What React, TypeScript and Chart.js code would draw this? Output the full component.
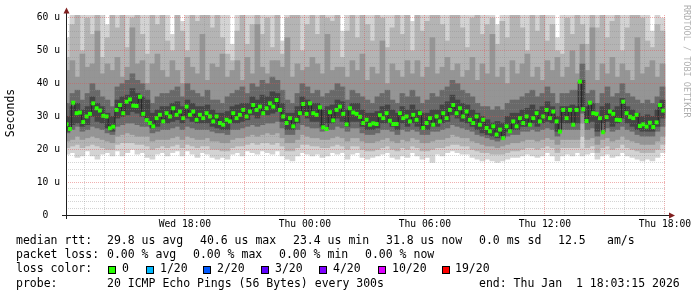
import React, { useEffect, useRef } from 'react';
import { Chart, registerables } from 'chart.js';

Chart.register(...registerables);

// ---- time axis (minutes since Wed 00:00) ----
const START_MIN = 723.25; // Wed 12:03:15
const END_MIN = 2523.25; // Thu 18:03:15
const SMOKE_START = 720;
const SMOKE_STEP = 15;
const MEDIAN_START = 720;
const MEDIAN_STEP = 10;

const xLabelValues = [1080, 1440, 1800, 2160, 2520];
const xLabelTexts = ['Wed 18:00', 'Thu 00:00', 'Thu 06:00', 'Thu 12:00', 'Thu 18:00'];
const yLabelValues = [0, 10, 20, 30, 40, 50, 60];
const yLabelTexts = ['0  ', '10 u', '20 u', '30 u', '40 u', '50 u', '60 u'];

// ---- median RTT (us), one per 10 minutes ----
const median = [
  27.6, 26.2, 34.2, 31.0, 31.2, 28.3, 30.0, 30.8, 34.0, 32.5, 31.8, 30.2, 30.0, 26.4, 26.9, 32.0, 33.5, 31.0, 34.5, 35.2, 33.3, 33.2, 36.0, 30.8, 28.9,
  28.0, 27.0, 29.5, 30.5, 28.5, 31.0, 30.0, 32.5, 30.5, 31.5, 29.5, 33.0, 30.5, 31.5, 29.0, 30.5, 29.5, 31.0, 30.0, 28.5, 30.0, 28.0, 27.5, 29.0, 28.5,
  31.0, 29.5, 30.5, 32.0, 30.0, 31.5, 33.5, 32.0, 33.0, 31.0, 32.5, 34.0, 33.0, 35.0, 32.0, 30.0, 28.0, 29.5, 27.0, 29.0, 31.0, 33.8, 30.8, 34.0, 31.0,
  30.5, 32.8, 26.7, 26.2, 31.3, 28.8, 32.0, 33.0, 30.8, 27.6, 32.5, 31.2, 30.8, 29.9, 28.0, 29.0, 27.5, 27.9, 27.7, 30.4, 29.5, 31.0, 28.7, 27.7, 27.7,
  31.0, 29.5, 30.0, 28.5, 30.5, 29.0, 31.0, 26.5, 28.0, 29.5, 27.5, 30.0, 28.5, 31.0, 29.5, 32.0, 33.5, 31.0, 32.5, 30.0, 31.5, 29.0, 28.0, 30.0, 27.5,
  29.0, 26.5, 25.5, 27.0, 24.5, 26.0, 23.4, 27.0, 25.5, 28.5, 27.0, 29.5, 28.0, 30.0, 27.5, 29.5, 31.0, 28.5, 30.0, 32.0, 29.5, 31.5, 28.5, 25.4, 32.0,
  29.5, 32.0, 27.5, 32.0, 40.6, 32.2, 28.6, 34.2, 31.0, 30.8, 29.5, 25.2, 29.8, 31.5, 30.8, 29.0, 28.9, 34.5, 31.0, 29.9, 29.5, 30.5, 27.1, 27.6, 26.9,
  28.1, 26.8, 28.2, 33.5, 31.8,
];

// ---- smoke percentiles (us), one column per 15 minutes ----
const ping1 = [
  18.5, 19, 17.5, 18, 19.5, 18, 17, 18.5, 19, 18,
  19.5, 18, 19, 20, 18.5, 19, 17.5, 17, 18.5, 19,
  18, 19, 19.5, 18, 19.5, 18.5, 17.5, 19, 18.5, 17.5,
  17, 17.5, 17, 18.5, 19, 18, 19.5, 19, 18.5, 19.5,
  19, 18.5, 19.5, 18, 17, 16.5, 18, 19, 18.5, 18,
  18.5, 17.5, 18, 19, 18.5, 19, 17, 18.5, 19, 17.5,
  17, 17.5, 18, 18.5, 19, 17.5, 17, 18, 17.5, 19,
  18, 17, 17.5, 16, 18.5, 18, 19, 19.5, 19, 18.5,
  18.5, 17.5, 17, 16.5, 17, 16.5, 16, 16.5, 17, 17.5,
  17.5, 18, 18.5, 18, 17.5, 18, 19, 18, 16.5, 18,
  18.5, 18, 19, 18, 18.5, 19, 17, 18, 18.5, 17.5,
  18, 19, 18, 17.5, 17, 16.5, 17, 16.5, 17.5, 19,
];
const ping2 = [
  20.5, 21, 21.5, 20.5, 21, 21.5, 21, 20.5, 20, 20,
  21.5, 22, 22, 22, 21.5, 21.5, 21, 20, 20.5, 21,
  20.5, 21, 21.5, 20.5, 21.5, 21, 20.5, 21, 21, 20,
  20, 19.5, 19.5, 20.5, 21, 21, 21.5, 22, 21.5, 22,
  22, 21.5, 22, 21, 19.5, 19.5, 20.5, 21.5, 21.5, 21,
  21, 20.5, 20.5, 21, 21.5, 21, 20, 21, 21, 20,
  19.5, 19.5, 20, 20.5, 21, 20, 19.5, 20.5, 20, 21,
  20.5, 19.5, 19.5, 20, 20.5, 20.5, 21, 21.5, 21.5, 21,
  21, 20, 19.5, 19, 19, 18.5, 18.5, 18.5, 19, 19.5,
  19.5, 20, 20.5, 20.5, 20, 20.5, 21, 20.5, 19, 20.5,
  20.5, 20.5, 20.5, 24, 20.5, 21, 19, 20.5, 21, 20,
  20.5, 21.5, 20.5, 20, 19.5, 19, 19, 19, 20, 21.5,
];
const ping4 = [
  22.5, 23, 24, 23, 23.5, 24, 23.5, 23, 22.5, 22,
  24, 24.5, 25, 24.5, 24, 24, 24, 22.5, 23, 23,
  23, 23.5, 24, 23, 24, 23.5, 23, 23, 23.5, 22.5,
  22.5, 22, 22, 23, 23.5, 23.5, 24, 24.5, 24, 24.5,
  25, 24.5, 25, 23.5, 22, 22, 23, 24.5, 24, 23.5,
  23.5, 23, 23, 23.5, 24, 23.5, 22.5, 23.5, 23.5, 22.5,
  22, 22, 22.5, 23, 23.5, 22.5, 22, 23, 22.5, 23.5,
  23, 22, 22, 22.5, 23, 23, 23.5, 24.5, 24, 23.5,
  23.5, 22.5, 22, 21.5, 21, 21, 20.5, 21, 21.5, 22,
  22, 22.5, 23, 23, 22.5, 23, 23.5, 23, 21.5, 23,
  23, 23, 23, 28, 23, 23.5, 21.5, 23, 23.5, 22.5,
  23, 24, 23, 22.5, 22, 21.5, 21.5, 21.5, 22.5, 24,
];
const ping7 = [
  25, 26, 27, 25.5, 26, 27, 26.5, 26, 25, 24.5,
  27, 27.5, 28, 28, 27.5, 27, 27, 25, 25.5, 26,
  26, 26.5, 27, 26, 27, 26.5, 26, 26, 26, 25.5,
  25, 25, 24.5, 26, 26, 26.5, 27, 27.5, 27, 27.5,
  28, 28, 28.5, 26.5, 24.5, 24.5, 26, 27.5, 27, 26.5,
  26.5, 25.5, 26, 26, 27, 26.5, 25.5, 26.5, 26.5, 25,
  24.5, 24.5, 25, 26, 26, 25.5, 24.5, 26, 25.5, 26,
  25.5, 24.5, 24.5, 25.5, 25.5, 26, 26.5, 27.5, 27, 26.5,
  26, 25.5, 24.5, 24, 23.5, 23, 22.5, 23, 24, 24.5,
  24.5, 25.5, 25.5, 26, 25.5, 26, 26.5, 26, 24, 26,
  26, 26, 26, 31, 26, 26.5, 24, 26, 26.5, 25.5,
  26, 27, 26, 25.5, 24.5, 24, 24, 24, 25.5, 27,
];
const ping9 = [
  25.5, 27.5, 28, 27, 27.5, 30, 28.5, 28, 26.5, 25.5,
  29.5, 30, 30.5, 31.5, 31, 30, 29.5, 26.5, 27, 28,
  28, 28.5, 29, 28, 29.5, 28.5, 28, 28, 28, 27,
  26.5, 26, 26, 28, 28, 28.5, 29, 30.5, 29.5, 30.5,
  30.5, 31, 31.5, 28.5, 26, 26, 28, 30.5, 29.5, 28.5,
  28.5, 27, 28, 28, 29.5, 28.5, 27, 28.5, 28.5, 27,
  26, 26, 26.5, 28, 28, 27, 26, 28, 27, 28,
  27, 26, 26, 27, 27, 28, 28.5, 30.5, 29.5, 28.5,
  28, 27, 26, 25, 24.5, 24, 23.5, 24, 25.5, 26,
  26, 27, 27, 28, 27, 28, 28.5, 28, 25.5, 28,
  28, 28, 28, 33, 28, 28.5, 25.5, 28, 28.5, 27,
  28, 29.5, 28, 27, 26, 25.5, 25.5, 25.5, 27, 29.5,
];
const ping12 = [
  30, 33, 34, 32, 33, 36, 34, 33, 31, 30,
  35, 36, 36.5, 38.5, 37, 36, 35, 31, 32, 33,
  33, 34, 34.5, 33, 35, 34, 33, 33, 33.5, 32,
  31, 31, 31.5, 33, 33.5, 34, 34, 36, 35, 36.5,
  36, 37.5, 37, 34, 31, 31, 33, 36, 35, 34,
  34, 32, 33, 33.5, 35, 34.5, 32, 34, 34, 32,
  31, 31, 31.5, 33, 33.5, 32, 31, 33, 32, 33.5,
  32, 31, 31, 32, 32, 33.5, 34.5, 36.5, 35, 34,
  33.5, 32, 31, 30, 29, 28, 28.5, 28, 30, 31,
  31, 32, 32.5, 33.5, 32, 33, 34.5, 33, 30, 33,
  33, 33.5, 33, 41, 33, 34, 30, 33, 34, 32,
  33, 35.5, 33, 32, 31, 30, 30.5, 30, 32, 35,
];
const ping14 = [
  34, 37, 38, 35, 37, 40, 38, 36, 35, 33,
  39, 40, 41, 43, 41, 40, 38, 34, 36, 37,
  37, 38, 39, 36, 40, 38, 37, 36, 38, 35,
  35, 34, 36, 37, 38, 39, 37, 40, 39, 41,
  40, 42, 41, 38, 35, 34, 37, 40, 39, 37,
  38, 36, 37, 38, 40, 39, 35, 38, 37, 36,
  35, 34, 36, 37, 38, 35, 34, 37, 36, 38,
  36, 34, 35, 37, 36, 38, 39, 41, 40, 38,
  37, 36, 34, 33, 33, 32, 33, 32, 34, 35,
  35, 36, 37, 38, 36, 37, 39, 37, 34, 37,
  37, 38, 38, 46, 37, 38, 34, 37, 39, 36,
  37, 40, 37, 36, 35, 34, 35, 34, 36, 39,
];
const ping16 = [
  44, 47, 42, 49, 45, 46, 56, 43, 46, 44,
  48, 42, 45, 57, 46, 47, 40, 46, 49, 44,
  42, 47, 44, 40, 48, 45, 43, 55, 41, 46,
  45, 49, 42, 44, 47, 41, 48, 43, 58, 45,
  43, 47, 47, 45, 54, 42, 46, 44, 45, 48,
  46, 43, 55, 44, 45, 45, 42, 47, 44, 49,
  41, 45, 43, 53, 40, 46, 44, 42, 47, 43,
  47, 42, 45, 54, 43, 45, 48, 44, 46, 42,
  44, 48, 41, 46, 43, 55, 42, 45, 40, 47,
  43, 46, 49, 42, 45, 41, 47, 44, 48, 42,
  45, 50, 43, 52, 44, 57, 41, 46, 43, 48,
  42, 46, 44, 41, 54, 43, 45, 47, 42, 46,
];
const ping18 = [
  48, 58, 70, 50, 60, 55, 64, 48, 54, 62,
  57, 64, 51, 60, 64, 55, 49, 62, 58, 70,
  53, 50, 64, 56, 50, 70, 59, 61, 62, 57,
  64, 54, 49, 47, 56, 70, 52, 58, 64, 55,
  60, 51, 64, 49, 60, 62, 70, 50, 58, 63,
  55, 64, 60, 59, 64, 48, 56, 62, 54, 70,
  58, 53, 70, 60, 51, 57, 64, 55, 61, 50,
  64, 56, 59, 62, 64, 58, 53, 62, 70, 57,
  51, 60, 70, 55, 58, 60, 52, 59, 54, 62,
  64, 57, 50, 61, 56, 70, 53, 58, 50, 49,
  60, 55, 64, 58, 52, 62, 57, 70, 54, 59,
  63, 50, 57, 70, 62, 60, 53, 51, 58, 56,
];
const ping20 = [
  54, 70, 70, 70, 70, 70, 70, 70, 58, 70,
  70, 70, 70, 70, 70, 70, 70, 70, 70, 70,
  70, 55, 70, 59, 70, 70, 70, 70, 70, 70,
  70, 70, 70, 52, 70, 70, 70, 70, 70, 70,
  70, 70, 70, 53, 70, 70, 70, 70, 70, 70,
  70, 70, 70, 70, 70, 56, 70, 70, 70, 70,
  70, 70, 70, 70, 70, 70, 70, 70, 70, 59,
  70, 70, 70, 70, 70, 70, 70, 70, 70, 70,
  70, 70, 70, 70, 70, 70, 58, 70, 70, 70,
  70, 70, 70, 70, 70, 70, 70, 70, 54, 70,
  70, 70, 70, 70, 70, 70, 70, 70, 70, 70,
  70, 70, 70, 70, 70, 70, 70, 56, 70, 60,
];

// ---- legend ----
const lossColors = ['#26ff00', '#00b8ff', '#0059ff', '#5e00ff', '#7e00ff', '#dd00ff', '#ff0000'];
const lossLabels = ['0', '1/20', '2/20', '3/20', '4/20', '10/20', '19/20'];

const MONO = '"DejaVu Sans Mono", monospace';
const GRID_MINOR = 'rgba(143,143,143,0.38)';
const GRID_MAJOR = 'rgba(222,79,79,0.45)';

const smokeTime = (i: number) => SMOKE_START + SMOKE_STEP * i + SMOKE_STEP / 2;
const medianTime = (j: number) => MEDIAN_START + MEDIAN_STEP * j + MEDIAN_STEP / 2;

function band(lo: number[], hi: number[], color: string, order: number) {
  return {
    type: 'bar' as const,
    data: lo.map((v, i) => ({ x: smokeTime(i), y: [v, hi[i]] })),
    backgroundColor: color,
    borderWidth: 0,
    barPercentage: 1,
    categoryPercentage: 1,
    grouped: false,
    order,
  };
}

const decorPlugin = {
  id: 'rrdDecor',
  afterDraw(chart: any) {
    const ctx: CanvasRenderingContext2D = chart.ctx;
    const area = chart.chartArea;
    ctx.save();
    // axes
    ctx.strokeStyle = '#1f1f1f';
    ctx.lineWidth = 1;
    ctx.beginPath();
    ctx.moveTo(62, area.bottom + 0.5);
    ctx.lineTo(670, area.bottom + 0.5);
    ctx.moveTo(area.left + 0.5, area.bottom + 4);
    ctx.lineTo(area.left + 0.5, 12);
    ctx.stroke();
    // arrows
    ctx.fillStyle = '#801f1f';
    ctx.beginPath();
    ctx.moveTo(675, area.bottom + 0.5);
    ctx.lineTo(669, area.bottom - 2.5);
    ctx.lineTo(669, area.bottom + 3.5);
    ctx.closePath();
    ctx.fill();
    ctx.beginPath();
    ctx.moveTo(area.left + 0.5, 7.5);
    ctx.lineTo(area.left - 2.5, 13.5);
    ctx.lineTo(area.left + 3.5, 13.5);
    ctx.closePath();
    ctx.fill();

    // y title
    ctx.fillStyle = '#000';
    ctx.font = `11.5px ${MONO}`;
    ctx.textBaseline = 'middle';
    ctx.save();
    ctx.translate(11, 113);
    ctx.rotate(-Math.PI / 2);
    ctx.textAlign = 'center';
    ctx.fillText('Seconds', 0, 0);
    ctx.restore();

    // watermark
    ctx.save();
    ctx.translate(686, 5);
    ctx.rotate(Math.PI / 2);
    ctx.textAlign = 'left';
    ctx.fillStyle = 'rgba(0,0,0,0.33)';
    ctx.font = `8.5px ${MONO}`;
    ctx.fillText('RRDTOOL / TOBI OETIKER', 0, 0);
    ctx.restore();

    // legend text
    ctx.textAlign = 'left';
    ctx.fillStyle = '#000';
    ctx.font = `11.5px ${MONO}`;
    const rows: [number, [number, string][]][] = [
      [241, [[16, 'median rtt:'], [107, '29.8 us avg'], [200, '40.6 us max'], [293, '23.4 us min'], [386, '31.8 us now'], [479, '0.0 ms sd'], [558, '12.5'], [607, 'am/s']]],
      [255.5, [[16, 'packet loss:'], [107, '0.00 % avg'], [193, '0.00 % max'], [279, '0.00 % min'], [365, '0.00 % now']]],
      [269.5, [[16, 'loss color:']]],
      [284, [[16, 'probe:'], [107, '20 ICMP Echo Pings (56 Bytes) every 300s'], [479, 'end: Thu Jan  1 18:03:15 2026']]],
    ];
    rows.forEach(([y, items]) => items.forEach(([x, t]) => ctx.fillText(t, x, y)));
    const boxX = [108, 146, 203, 261, 319, 378, 442];
    const textX = [122, 160, 217, 275, 333, 392, 455];
    lossColors.forEach((c, k) => {
      ctx.fillStyle = '#000';
      ctx.fillRect(boxX[k], 266, 8, 8);
      ctx.fillStyle = c;
      ctx.fillRect(boxX[k] + 1, 267, 6, 6);
      ctx.fillStyle = '#000';
      ctx.fillText(lossLabels[k], textX[k], 269.5);
    });
    ctx.restore();
  },
};

export default function App() {
  const ref = useRef<HTMLCanvasElement>(null);
  useEffect(() => {
    document.body.style.margin = '0';
    const hourTicks: number[] = [];
    for (let v = 780; v <= 2520; v += 60) hourTicks.push(v);
    const yTicks: number[] = [];
    for (let v = 0; v <= 60; v += 2) yTicks.push(v);

    const medianPts = median.map((v, j) => ({ x: medianTime(j), y: v }));
    const chart = new Chart(ref.current as HTMLCanvasElement, {
      type: 'bar',
      data: {
        datasets: [
          band(ping1, ping20, '#d3d3d3', 7),
          band(ping2, ping18, '#b4b4b4', 6),
          band(ping4, ping16, '#959595', 5),
          band(ping7, ping14, '#696969', 4),
          band(ping9, ping12, '#444444', 3),
          {
            type: 'line',
            data: medianPts,
            borderColor: '#262626',
            borderWidth: 1,
            stepped: 'middle',
            pointRadius: 0,
            order: 2,
          } as any,
          {
            type: 'line',
            data: medianPts,
            showLine: false,
            pointStyle: 'rect',
            pointRadius: 2.8,
            pointBackgroundColor: '#26ff00',
            pointBorderWidth: 0,
            borderWidth: 0,
            order: 1,
          } as any,
        ],
      },
      options: {
        responsive: false,
        animation: false,
        devicePixelRatio: 1,
        events: [],
        layout: { padding: { left: 0, right: 31, top: 15, bottom: 0 } },
        plugins: { legend: { display: false }, tooltip: { enabled: false } },
        scales: {
          x: {
            type: 'linear',
            min: START_MIN,
            max: END_MIN,
            offset: false,
            grid: {
              offset: false,
              drawTicks: false,
              z: 1,
              lineWidth: 1,
              color: (c: any) => (c.tick && c.tick.value % 180 === 0 ? GRID_MAJOR : GRID_MINOR),
            },
            border: { display: false, dash: [1, 1] },
            afterBuildTicks: (s: any) => {
              s.ticks = hourTicks.map((v) => ({ value: v }));
            },
            afterFit: (s: any) => {
              s.height = 82;
            },
            ticks: {
              autoSkip: false,
              maxRotation: 0,
              minRotation: 0,
              padding: 4,
              color: '#000',
              font: { family: MONO, size: 9.7 },
              callback: (v: any) => {
                const k = xLabelValues.indexOf(Number(v));
                return k >= 0 ? xLabelTexts[k] : '';
              },
            },
          } as any,
          y: {
            type: 'linear',
            min: 0,
            max: 60.9,
            grid: {
              drawTicks: false,
              z: 1,
              lineWidth: 1,
              color: (c: any) => (c.tick && c.tick.value % 10 === 0 ? GRID_MAJOR : GRID_MINOR),
            },
            border: { display: false, dash: [1, 1] },
            afterBuildTicks: (s: any) => {
              s.ticks = yTicks.map((v) => ({ value: v }));
            },
            afterFit: (s: any) => {
              s.width = 66;
            },
            ticks: {
              autoSkip: false,
              padding: 6,
              color: '#000',
              font: { family: MONO, size: 9.7 },
              callback: (v: any) => {
                const k = yLabelValues.indexOf(Number(v));
                return k >= 0 ? yLabelTexts[k] : '';
              },
            },
          } as any,
        },
      },
      plugins: [decorPlugin],
    } as any);
    return () => chart.destroy();
  }, []);

  return (
    <div style={{ position: 'absolute', left: 0, top: 0, width: 697, height: 297, background: '#fff' }}>
      <canvas ref={ref} width={697} height={297} style={{ display: 'block' }} />
    </div>
  );
}
